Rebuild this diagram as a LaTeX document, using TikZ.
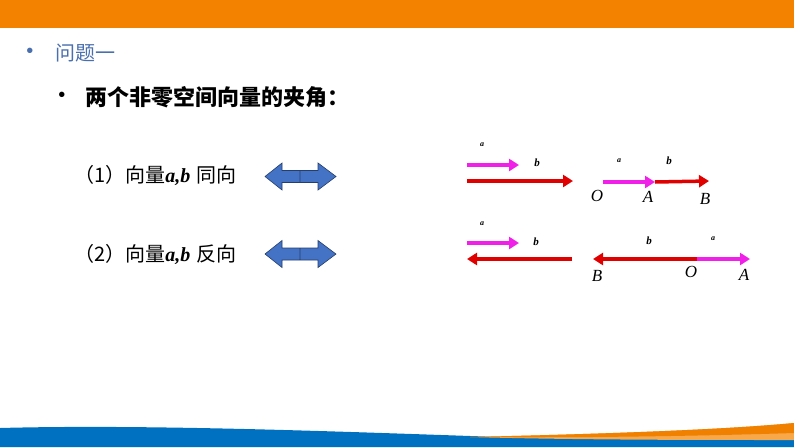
\documentclass[tikz,border=0pt]{standalone}
\usepackage{fontspec}
\setmainfont{Liberation Serif}
\newfontfamily\cjk{Noto Sans CJK SC}
\newfontfamily\bulletfont{Liberation Sans}
\usetikzlibrary{arrows.meta}
\definecolor{topbar}{HTML}{F28200}
\definecolor{wave}{HTML}{0070C0}
\definecolor{waveorange}{HTML}{F08000}
\definecolor{wavelight}{HTML}{F8A848}
\definecolor{titleblue}{HTML}{4A6FAE}
\definecolor{arrowblue}{HTML}{4472C4}
\definecolor{vecred}{HTML}{E00000}
\definecolor{vecmag}{HTML}{F020E8}

\begin{document}
\begin{tikzpicture}[x=1pt,y=-1pt,
  vec/.style={line width=3.5pt,-{Triangle[length=10pt,width=12pt]}},
  avec/.style={vec,vecmag},
  bvec/.style={vec,vecred},
  dbl/.style={draw=arrowblue!55!black,fill=arrowblue,line width=0.6pt,line join=miter},
  ptlabel/.style={font=\itshape\fontsize{17}{17}\selectfont,inner sep=0pt},
  tinylabel/.style={font=\bfseries\itshape\fontsize{8}{8}\selectfont,inner sep=0pt},
  smalllabel/.style={font=\bfseries\itshape\fontsize{11}{11}\selectfont,inner sep=0pt},
  bullet/.style={font=\bulletfont\fontsize{20}{20}\selectfont,inner sep=0pt},
  item/.style={anchor=west,inner sep=0pt,font=\cjk\fontsize{20}{20}\selectfont}]
  \useasboundingbox (0,0) rectangle (794,447);

  % top bar and bottom waves
  \fill[topbar] (0,0) rectangle (794,28);
  \fill[wave] (0,428) .. controls (150,424) and (350,432) .. (500,437)
    .. controls (650,440) and (750,439) .. (794,439) -- (794,447) -- (0,447) -- cycle;
  \fill[wavelight] (470,437) .. controls (600,434) and (720,430) .. (794,423)
    -- (794,440) .. controls (700,440) and (580,440) .. (470,437) -- cycle;
  \fill[waveorange] (470,437) .. controls (600,434) and (720,430) .. (794,423)
    -- (794,433) .. controls (700,436) and (580,438) .. (470,437) -- cycle;

  % headings
  \node[bullet,text=titleblue] (dot1) at (30,53) {•};
  \node[item,text=titleblue] (title) at (55,53) {问题一};
  \node[bullet] (dot2) at (62,97) {•};
  \node[item,font=\cjk\bfseries\fontsize{22}{22}\selectfont] (topic) at (85,97) {两个非零空间向量的夹角：};

  % the two cases
  \node[item] (same) at (74,175) {（1）向量{\rmfamily\bfseries\itshape a,b}\hspace{6pt}同向};
  \node[item] (opp) at (74,254) {（2）向量{\rmfamily\bfseries\itshape a,b}\hspace{6pt}反向};
  \foreach \y in {176.5,254}
    \draw[dbl] (265,\y) -- (282,\y-13.5) -- (282,\y-6) -- (318,\y-6) -- (318,\y-13.5)
      -- (336,\y) -- (318,\y+13.5) -- (318,\y+6) -- (282,\y+6) -- (282,\y+13.5) -- cycle
      (300,\y-6) -- (300,\y+6);

  % row 1: same direction
  \coordinate (a1s) at (467,165);
  \coordinate (a1e) at (519,165);
  \coordinate (b1s) at (467,181);
  \coordinate (b1e) at (573,181);
  \node[tinylabel] (la1) at (482,145) {a};
  \node[smalllabel] (lb1) at (537,163) {b};
  \draw[avec] (a1s) -- (a1e);
  \draw[bvec] (b1s) -- (b1e);

  \coordinate (o1) at (603,182);
  \coordinate (p1) at (655,182);
  \coordinate (q1) at (709,181);
  \node[tinylabel] (la1b) at (619,161) {a};
  \node[smalllabel] (lb1b) at (669,161) {b};
  \node[ptlabel] (O1) at (597,196) {O};
  \node[ptlabel] (A1) at (648,197) {A};
  \node[ptlabel] (B1) at (705,199) {B};
  \draw[bvec] (p1) -- (q1);
  \draw[avec] (o1) -- (p1);

  % row 2: opposite direction
  \coordinate (a2s) at (467,243);
  \coordinate (a2e) at (519,243);
  \coordinate (b2s) at (572,259);
  \coordinate (b2e) at (467,259);
  \node[tinylabel] (la2) at (482,224) {a};
  \node[smalllabel] (lb2) at (536,242) {b};
  \draw[avec] (a2s) -- (a2e);
  \draw[bvec] (b2s) -- (b2e);

  \coordinate (o2) at (697,259);
  \coordinate (p2) at (750,259);
  \coordinate (q2) at (593,259);
  \node[smalllabel] (lb2b) at (649,241) {b};
  \node[tinylabel] (la2b) at (713,239) {a};
  \node[ptlabel] (B2) at (597,276) {B};
  \node[ptlabel] (O2) at (691,272) {O};
  \node[ptlabel] (A2) at (744,275) {A};
  \draw[bvec] (o2) -- (q2);
  \draw[avec] (o2) -- (p2);
\end{tikzpicture}
\end{document}
